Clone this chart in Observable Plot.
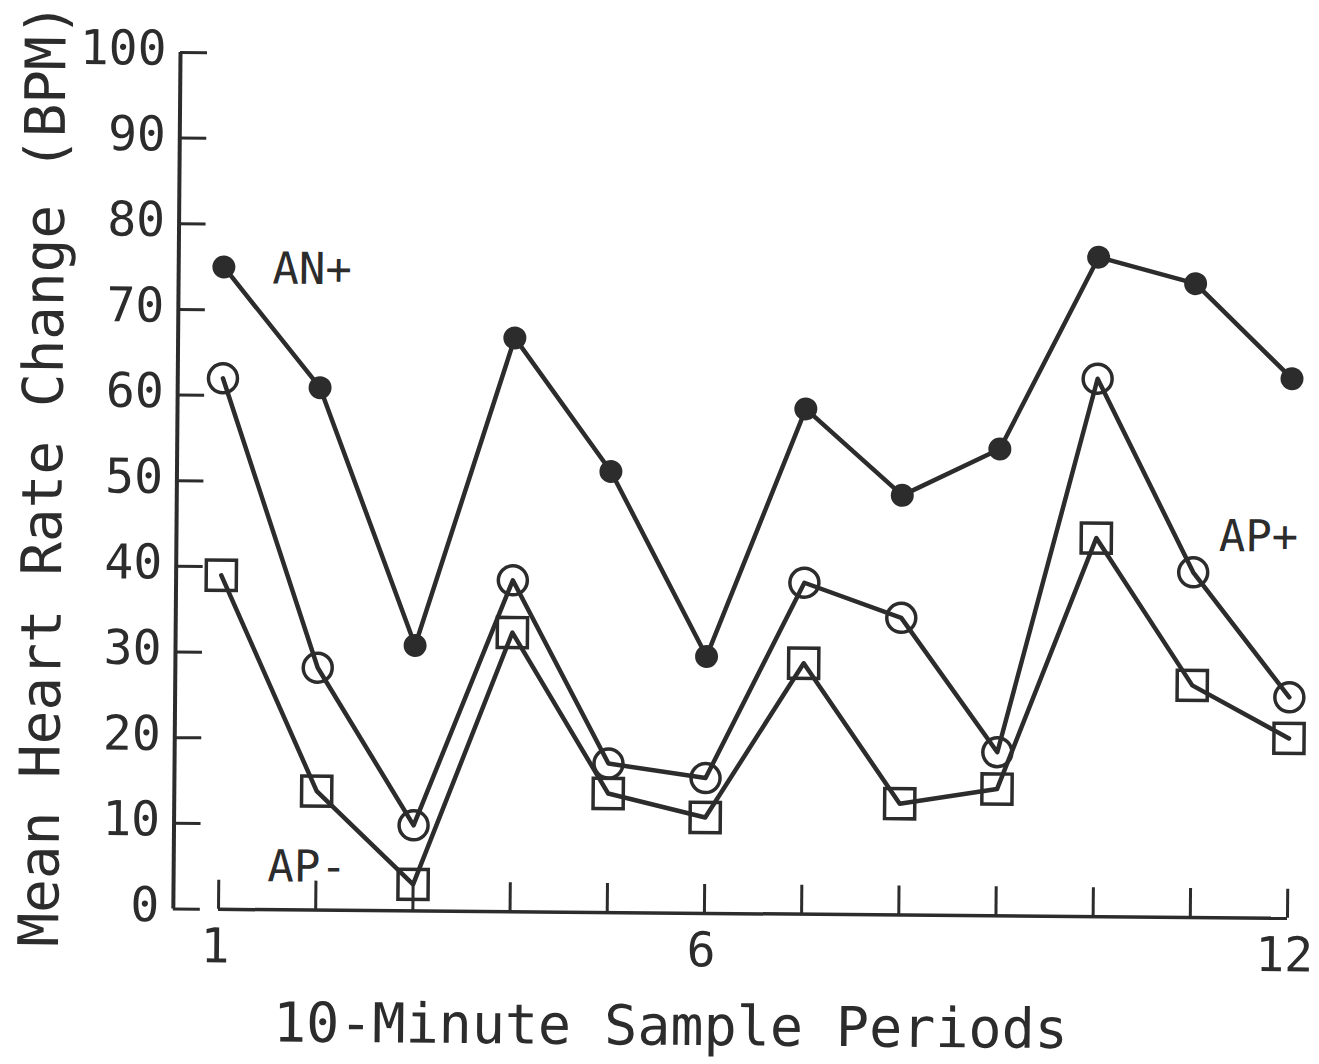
<!DOCTYPE html>
<html>
<head>
<meta charset="utf-8">
<script src="https://cdn.jsdelivr.net/npm/d3@7"></script>
<script src="https://cdn.jsdelivr.net/npm/@observablehq/plot@0.6"></script>
<style>
  html, body { margin: 0; padding: 0; background: #fff; }
  #chart svg { display: block; transform: rotate(0.48deg); transform-origin: 50% 50%; }
</style>
</head>
<body>
<div id="chart"></div>
<script>
// 10-minute sample periods
const periods = [1, 2, 3, 4, 5, 6, 7, 8, 9, 10, 11, 12];

// Mean heart rate change (BPM) per group
const anPlus  = [75, 61, 31, 67, 51.5, 30, 59, 49, 54.5, 77, 74, 63];
const apPlus  = [62, 28.3, 10, 38.7, 17.4, 15.8, 38.7, 34.7, 19.1, 62.8, 40.3, 25.8];
const apMinus = [39, 13.9, 3.1, 32.6, 13.9, 11.2, 29.3, 13, 14.8, 44.2, 27.1, 21];

// Axis ticks
const labeledPeriods = [1, 6, 12];
const yTicks = d3.range(0, 101, 10);

// Group names written beside their curves
const seriesNames = ["AN+", "AP+", "AP-"];
const namePeriod = [1.5, 11.26, 1.5];
const nameValue = [75, 44.7, 5.2];

const ink = "#2c2c2c";
const mono = "'DejaVu Sans Mono', 'Liberation Mono', monospace";

const rows = (values, series) => periods.map((p, i) => ({period: p, value: values[i], series}));
const anRows = rows(anPlus, "AN+");
const apPlusRows = rows(apPlus, "AP+");
const apMinusRows = rows(apMinus, "AP-");
const nameRows = seriesNames.map((n, i) => ({name: n, period: namePeriod[i], value: nameValue[i]}));

const xMin = 0.535;

const chart = Plot.plot({
  width: 1319,
  height: 1064,
  marginLeft: 176,
  marginRight: 28.8,
  marginTop: 56,
  marginBottom: 151.5,
  style: {background: "#fff", fontFamily: mono, color: ink},
  x: {type: "linear", domain: [xMin, 12]},
  y: {type: "linear", domain: [0, 100]},
  marks: [
    // axis lines
    Plot.ruleX([xMin], {stroke: ink, strokeWidth: 4}),
    Plot.ruleY([0], {x1: periods[0], x2: periods[periods.length - 1], stroke: ink, strokeWidth: 3.5}),
    // inward ticks
    Plot.axisX(periods, {tickSize: -29, tickFormat: () => "", label: null, stroke: ink, strokeWidth: 3}),
    Plot.axisY(yTicks, {tickSize: -27, tickFormat: () => "", label: null, stroke: ink, strokeWidth: 3}),
    // tick labels
    Plot.axisX(labeledPeriods, {tickSize: 0, tickPadding: 19, fontSize: 48, label: null, fill: ink, dx: -3}),
    Plot.axisY(yTicks, {tickSize: 0, tickPadding: 14, fontSize: 48, label: null, fill: ink, dy: -3}),
    // series lines
    Plot.line(anRows, {x: "period", y: "value", stroke: ink, strokeWidth: 4.5}),
    Plot.line(apPlusRows, {x: "period", y: "value", stroke: ink, strokeWidth: 4.5}),
    Plot.line(apMinusRows, {x: "period", y: "value", stroke: ink, strokeWidth: 4.5}),
    // markers
    Plot.dot(anRows, {x: "period", y: "value", r: 11.5, fill: ink, stroke: null}),
    Plot.dot(apPlusRows, {x: "period", y: "value", r: 14.5, fill: "none", stroke: ink, strokeWidth: 3.5}),
    Plot.dot(apMinusRows, {x: "period", y: "value", symbol: "square", r: 17, fill: "none", stroke: ink, strokeWidth: 3.5}),
    // group names
    Plot.text(nameRows, {x: "period", y: "value", text: "name", textAnchor: "start", lineAnchor: "middle",
      fontSize: 44, fill: ink, dy: 2, ariaLabel: "series-name"}),
    // axis titles
    Plot.text(["Mean Heart Rate Change (BPM)"], {frameAnchor: "left", textAnchor: "middle", lineAnchor: "middle",
      rotate: -90, dx: -133, dy: -5, fontSize: 56, fill: ink}),
    Plot.text(["10-Minute Sample Periods"], {frameAnchor: "bottom", textAnchor: "middle", lineAnchor: "middle",
      dx: -59, dy: 114, fontSize: 55, fill: ink})
  ]
});

d3.select(chart).selectAll('g[aria-label="series-name"] text').style("letter-spacing", "6px");
document.getElementById("chart").appendChild(chart);
</script>
</body>
</html>
